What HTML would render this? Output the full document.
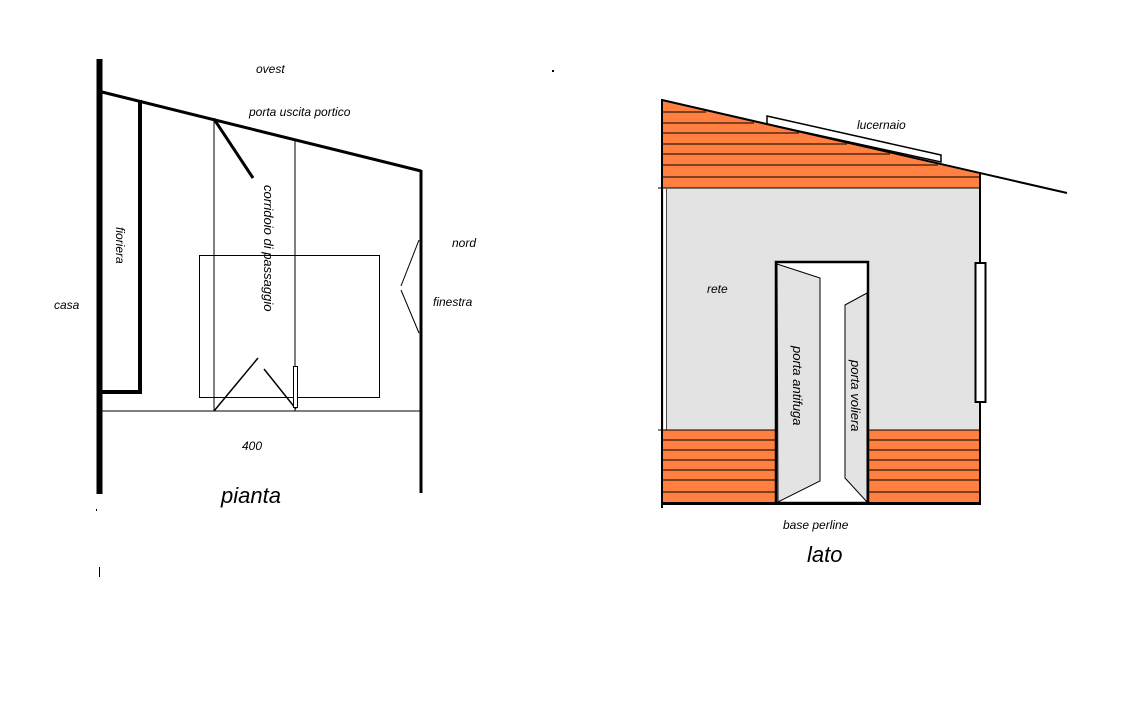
<!DOCTYPE html>
<html><head><meta charset="utf-8"><style>
html,body{margin:0;padding:0;background:#fff;}
svg{display:block;}
text{font-family:"Liberation Sans",sans-serif;font-style:italic;font-size:12px;fill:#000;}
</style></head><body>
<svg width="1144" height="718" viewBox="0 0 1144 718" xmlns="http://www.w3.org/2000/svg">
<!-- PIANTA -->
<line x1="99.5" y1="59" x2="99.5" y2="494" stroke="#000" stroke-width="6"/>
<line x1="102" y1="92" x2="421" y2="171" stroke="#000" stroke-width="3"/>
<line x1="421" y1="170" x2="421" y2="493" stroke="#000" stroke-width="3"/>
<polyline points="140,100 140,392 101,392" fill="none" stroke="#000" stroke-width="4"/>
<line x1="101" y1="411" x2="421" y2="411" stroke="#000" stroke-width="1"/>
<line x1="214" y1="118" x2="214" y2="411" stroke="#000" stroke-width="1"/>
<line x1="295" y1="140" x2="295" y2="411" stroke="#000" stroke-width="1"/>
<line x1="214" y1="119" x2="253" y2="178" stroke="#000" stroke-width="3"/>
<rect x="199.5" y="255.5" width="180" height="142" fill="none" stroke="#000" stroke-width="1"/>
<line x1="214" y1="411" x2="258" y2="358" stroke="#000" stroke-width="1.5"/>
<line x1="264" y1="369" x2="296" y2="409" stroke="#000" stroke-width="1.5"/>
<rect x="293.5" y="366.5" width="4" height="41" fill="#fff" stroke="#000" stroke-width="1"/>
<line x1="419" y1="240" x2="401" y2="286" stroke="#000" stroke-width="1"/>
<line x1="401" y1="290" x2="419" y2="333" stroke="#000" stroke-width="1"/>
<rect x="552" y="70" width="2" height="2" fill="#000"/>
<rect x="96" y="509" width="1" height="2" fill="#000"/>
<rect x="99" y="567" width="1" height="10" fill="#000"/>
<text x="256" y="73">ovest</text>
<text x="249" y="116">porta uscita portico</text>
<text x="452" y="247">nord</text>
<text x="433" y="306">finestra</text>
<text x="54" y="309">casa</text>
<text x="242" y="450">400</text>
<text x="221" y="503" style="font-size:22px">pianta</text>
<text transform="translate(116,227) rotate(90)">fioriera</text>
<text transform="translate(264,185) rotate(90)" style="font-size:13px">corridoio di passaggio</text>

<!-- LATO -->
<polygon points="662,100 980,173 980,188 662,188" fill="#ff8040"/>
<rect x="662" y="188" width="318" height="242" fill="#e3e3e3"/>
<rect x="662" y="430" width="318" height="73" fill="#ff8040"/>
<g stroke="#000" stroke-width="1">
<line x1="662" y1="112" x2="706" y2="112"/>
<line x1="662" y1="123" x2="754" y2="123"/>
<line x1="662" y1="133" x2="799" y2="133"/>
<line x1="662" y1="144" x2="847" y2="144"/>
<line x1="662" y1="154" x2="890" y2="154"/>
<line x1="662" y1="165" x2="938" y2="165"/>
<line x1="662" y1="177" x2="980" y2="177"/>
<line x1="658" y1="188" x2="980" y2="188"/>
<line x1="658" y1="430" x2="980" y2="430"/>
<line x1="662" y1="440" x2="980" y2="440"/>
<line x1="662" y1="450" x2="980" y2="450"/>
<line x1="662" y1="460" x2="980" y2="460"/>
<line x1="662" y1="470" x2="980" y2="470"/>
<line x1="662" y1="480" x2="980" y2="480"/>
<line x1="662" y1="492" x2="980" y2="492"/>
</g>
<rect x="664" y="189" width="3" height="240" fill="#fff"/>
<line x1="666.5" y1="189" x2="666.5" y2="430" stroke="#000" stroke-width="0.7"/>
<line x1="662" y1="99" x2="662" y2="508" stroke="#000" stroke-width="2"/>
<line x1="662" y1="503.5" x2="981" y2="503.5" stroke="#000" stroke-width="3"/>
<line x1="980" y1="172" x2="980" y2="505" stroke="#000" stroke-width="2"/>
<polygon points="767,116 941,155 941,162 767,124" fill="#fff" stroke="#000" stroke-width="1.5"/>
<line x1="662" y1="100" x2="1067" y2="193" stroke="#000" stroke-width="2"/>
<rect x="776" y="262" width="92" height="241" fill="#fff" stroke="#000" stroke-width="2.5"/>
<polygon points="777,264 820,278 820,481 778,502" fill="#e3e3e3" stroke="#000" stroke-width="1"/>
<polygon points="845,305 867,293 867,502 845,478" fill="#e3e3e3" stroke="#000" stroke-width="1"/>
<rect x="975.5" y="263" width="10" height="139" fill="#fff" stroke="#000" stroke-width="2"/>
<text x="857" y="129">lucernaio</text>
<text x="707" y="293">rete</text>
<text x="783" y="529">base perline</text>
<text x="807" y="562" style="font-size:22px">lato</text>
<text transform="translate(793,346) rotate(90)" style="font-size:13px">porta antifuga</text>
<text transform="translate(851,360) rotate(90)" style="font-size:13px">porta voliera</text>
</svg>
</body></html>
